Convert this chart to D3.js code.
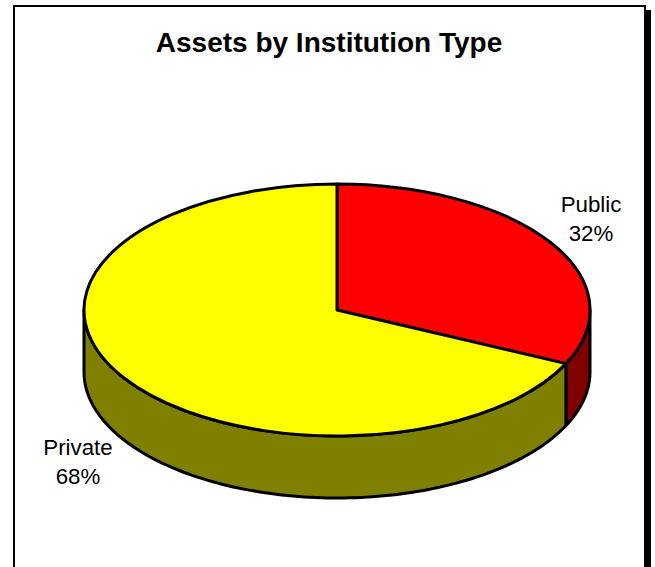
<!DOCTYPE html>
<html>
<head>
<meta charset="utf-8">
<script src="https://cdn.jsdelivr.net/npm/d3@7/dist/d3.min.js"></script>
<style>
html, body { margin: 0; padding: 0; background: #fff; overflow: hidden; }
svg { display: block; }
text { font-family: "Liberation Sans", Arial, sans-serif; fill: #000; }
</style>
</head>
<body>
<svg id="chart" width="655" height="567"></svg>
<script>
// Share of assets by institution type
const categories = ["Public", "Private"];
const shares = [32, 68];
const percentLabels = ["32%", "68%"];
const topColors = ["#ff0000", "#ffff00"];
const wallColors = ["#800000", "#808000"];
const chartTitle = "Assets by Institution Type";

const svg = d3.select("#chart");

// Chart frame with its drop shadow
svg.append("rect").attr("x", 20).attr("y", 10).attr("width", 631).attr("height", 600).attr("fill", "#000");
svg.append("rect").attr("x", 14).attr("y", 6).attr("width", 631).attr("height", 600)
  .attr("fill", "#fff").attr("stroke", "#000").attr("stroke-width", 2);

svg.append("text").attr("x", 329).attr("y", 52).attr("text-anchor", "middle")
  .attr("font-size", 28).attr("font-weight", "bold").text(chartTitle);

// Tilted pie geometry
const cx = 337, cy = 310, rx = 253, ry = 126, depth = 62;
const pie = d3.pie().sort(null).value(d => d);
const slices = pie(shares);

const px = a => cx + rx * Math.sin(a);
const py = a => cy - ry * Math.cos(a);

// Outer rim of the disc, sampled along an angular range and dropped by the depth
function wallPath(a0, a1) {
  const steps = d3.range(0, 121).map(i => a0 + (a1 - a0) * i / 120);
  const top = steps.map(a => [px(a), py(a)]);
  const bottom = steps.map(a => [px(a), py(a) + depth]).reverse();
  return d3.line()(top.concat(bottom)) + "Z";
}

const g = svg.append("g");

// Only the front half of the rim (90deg to 270deg clockwise from the top) is visible
const frontStart = Math.PI / 2, frontEnd = Math.PI * 1.5;
slices.forEach((s, i) => {
  const a0 = Math.max(s.startAngle, frontStart), a1 = Math.min(s.endAngle, frontEnd);
  if (a1 > a0) {
    g.append("path").attr("d", wallPath(a0, a1))
      .attr("fill", wallColors[i]).attr("stroke", "#000")
      .attr("stroke-width", 3).attr("stroke-linejoin", "round");
  }
});

// Top face of each slice: a circular arc flattened into an ellipse
const arc = d3.arc().innerRadius(0).outerRadius(rx);
g.selectAll("path.top").data(slices).join("path")
  .attr("class", "top")
  .attr("d", arc)
  .attr("transform", `translate(${cx},${cy}) scale(1,${ry / rx})`)
  .attr("fill", (d, i) => topColors[i])
  .attr("stroke", "#000").attr("stroke-width", 3)
  .attr("stroke-linejoin", "round")
  .attr("vector-effect", "non-scaling-stroke");

// Category and percentage labels
const labelPos = [[591, 212], [78, 455]];
categories.forEach((c, i) => {
  const t = svg.append("text").attr("text-anchor", "middle").attr("font-size", 22.3);
  t.append("tspan").attr("x", labelPos[i][0]).attr("y", labelPos[i][1]).text(c);
  t.append("tspan").attr("x", labelPos[i][0]).attr("y", labelPos[i][1] + 29).text(percentLabels[i]);
});
</script>
</body>
</html>
